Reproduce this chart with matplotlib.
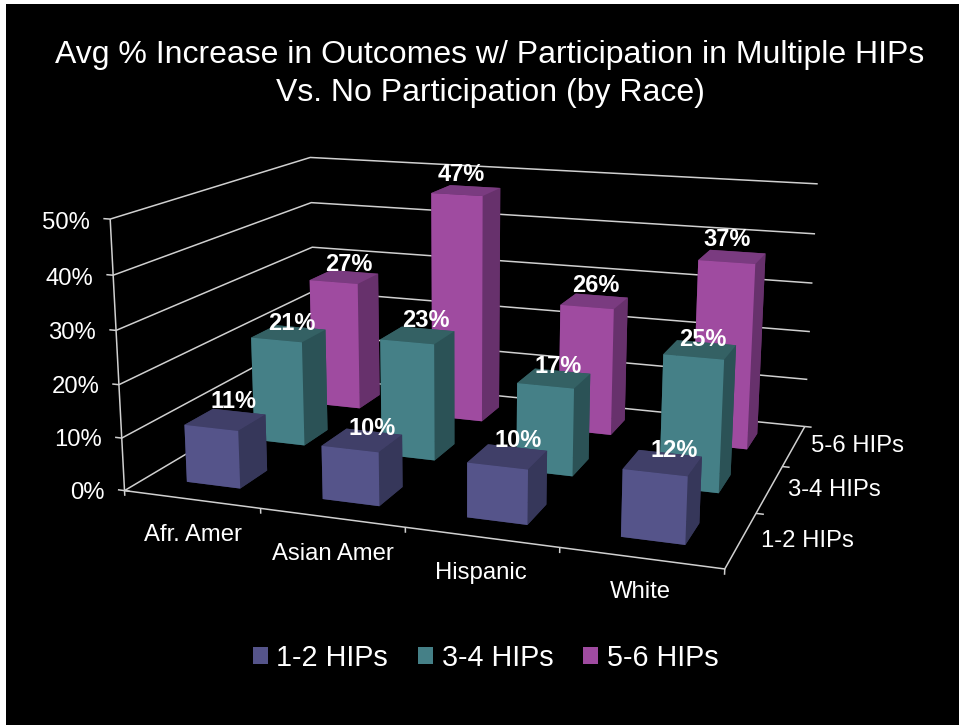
import numpy as np
import matplotlib
matplotlib.use("Agg")
import matplotlib.pyplot as plt
from matplotlib.patches import Patch, Rectangle

plt.rcParams['font.family'] = ['Liberation Sans', 'DejaVu Sans']

categories = ['Afr. Amer', 'Asian Amer', 'Hispanic', 'White']
series_names = ['1-2 HIPs', '3-4 HIPs', '5-6 HIPs']
hips_1_2 = [11, 10, 10, 12]
hips_3_4 = [21, 23, 17, 25]
hips_5_6 = [27, 47, 26, 37]
z_ticks = [0, 10, 20, 30, 40, 50]

# colours per series: front, top, side
front_cols = ['#55548a', '#458087', '#9f4ba0']
top_cols = ['#403f68', '#346164', '#7a3b80']
side_cols = ['#36375a', '#2b5256', '#67316c']
line_col = '#d0d0d0'

W, H = 959, 725
fig = plt.figure(figsize=(W / 100, H / 100), dpi=100, facecolor='white')
fig.add_artist(Rectangle((6 / W, 0), 1, 1 - 4 / H, transform=fig.transFigure,
                         facecolor='black', edgecolor='none', zorder=-5))

ax = fig.add_axes([0, 0, 1, 1], projection='3d')
ax.set_axis_off()
ax.patch.set_visible(False)
ax.computed_zorder = False

# camera fit: where the chart box edges land on the canvas
box_pts = [
    ((0, 0, 0), (125, 490.7)), ((0, 0, 10), (121.7, 437.7)),
    ((0, 0, 20), (119, 384.3)), ((0, 0, 30), (116.7, 330)),
    ((0, 0, 40), (113, 275)), ((0, 0, 50), (110, 219)),
    ((0, 3, 30), (311.7, 247.3)), ((0, 3, 40), (311, 202.7)),
    ((0, 3, 50), (310.7, 157.3)),
    ((4, 3, 0), (805, 425.7)), ((4, 3, 10), (806.7, 380)),
    ((4, 3, 20), (809.3, 332)), ((4, 3, 30), (812.3, 283.3)),
    ((4, 3, 40), (815, 234)), ((4, 3, 50), (818.3, 184)),
    ((1, 0, 0), (260.7, 509.3)), ((2, 0, 0), (405, 528.3)),
    ((3, 0, 0), (558.7, 548.3)), ((4, 0, 0), (723.3, 568.3)),
    ((4, 1, 0), (758, 512.7)), ((4, 2, 0), (783.3, 465.7)),
]


def fit_camera(pts):
    rows = []
    for (x, y, z), (u, v) in pts:
        p = [x / 4, y / 3, z / 50, 1]
        u, v = u / 1000, v / 1000
        rows.append(p + [0, 0, 0, 0] + [-u * c for c in p])
        rows.append([0, 0, 0, 0] + p + [-v * c for c in p])
    P = np.linalg.svd(np.array(rows))[2][-1].reshape(3, 4)
    P = np.diag([1000, 1000, 1]) @ P @ np.diag([1 / 4, 1 / 3, 1 / 50, 1])
    centre = P[2] @ np.array([2, 1.5, 25, 1])
    return P / centre


ax.apply_aspect()
cam = fit_camera(box_pts)
to_view = ax.transData.inverted().get_matrix() @ np.array([[1, 0, 0], [0, -1, H], [0, 0, 1]])
cam = to_view @ cam
# keep projected depth negative, Line3D drops points past the far plane
depth = cam[2] - np.array([0, 0, 0, 1.5])
M = np.vstack([cam[0], cam[1], depth, cam[2]])
ax.get_proj = lambda: M


def seg(xs, ys, zs, lw=1.1, col=line_col):
    ax.plot(xs, ys, zs, color=col, lw=lw, clip_on=False, zorder=1, solid_capstyle='butt')


# walls and floor edges
n_cat = len(categories)
n_ser = len(series_names)
for t in z_ticks:
    seg([0, 0, n_cat], [0, n_ser, n_ser], [t, t, t])
    seg([-0.05, 0], [0, 0], [t, t])
seg([0, 0], [0, 0], [0, 50])
seg([0, n_cat, n_cat], [0, 0, n_ser], [0, 0, 0])
seg([0, 0.04], [0, 0], [0, 0])
seg([0, 0], [0, 0], [-1, 0])
for i in range(1, n_cat + 1):
    seg([i, i], [0, 0], [-1, 0])
for j in range(1, n_ser + 1):
    seg([n_cat, n_cat + 0.05], [j, j], [0, 0])

# bars, back row first
values = [hips_1_2, hips_3_4, hips_5_6]
for j in range(n_ser - 1, -1, -1):
    face = [side_cols[j], top_cols[j], front_cols[j], side_cols[j], side_cols[j], side_cols[j]]
    for i, v in enumerate(values[j]):
        bar = ax.bar3d(i + 0.3, j + 0.3, 0, 0.4, 0.4, v, color=face, shade=False,
                       linewidth=0.3, edgecolor='none')
        bar.set_clip_on(False)
        bar.set_zorder(10 + (n_ser - j) * 10 + i)

# value labels sit just above each bar top
label_dx = [[0.07, 0.07, 0.07, 0.07],
            [0.03, 0.065, 0.03, 0.015],
            [0.04, -0.04, 0.01, -0.04]]
label_dz = [[3.7, 2.4, 3.1, 2.4],
            [2.2, 3.1, 2.3, 2.0],
            [2.75, 3.3, 3.3, 3.3]]
for j in range(n_ser):
    for i, v in enumerate(values[j]):
        ax.text(i + 0.5 + label_dx[j][i], j + 0.5, v + label_dz[j][i], f'{v}%', color='white',
                fontsize=17, fontweight='bold', ha='center', va='center', zorder=100)

# axis labels
cat_label_z = [-6.8, -6.8, -6.35, -5.9]
for t in z_ticks:
    ax.text(-0.15, 0, t - 0.9, f'{t}%', color='white', fontsize=17.2, ha='right', va='center')
for i, name in enumerate(categories):
    ax.text(i + 0.5, 0, cat_label_z[i], name, color='white', fontsize=17.2, ha='center', va='center')
for j, name in enumerate(series_names):
    ax.text(n_cat + 0.12, j + 0.5, 0.3, name, color='white', fontsize=17.2, ha='left', va='center')

fig.text(490 / W, 1 - 74 / H, 'Avg % Increase in Outcomes w/ Participation in Multiple HIPs\nVs. No Participation (by Race)',
         color='white', fontsize=23, ha='center', va='center', linespacing=1.37)

handles = [Patch(facecolor=c, edgecolor='none') for c in front_cols]
fig.legend(handles, series_names, loc='center', bbox_to_anchor=(485.5 / W, 1 - 658 / H), ncol=3,
           frameon=False, fontsize=20.7, labelcolor='white', handlelength=0.54, handleheight=0.54,
           handletextpad=0.29, columnspacing=1.03, borderpad=0, borderaxespad=0)

fig.savefig('out.png', dpi=100, facecolor=fig.get_facecolor())
